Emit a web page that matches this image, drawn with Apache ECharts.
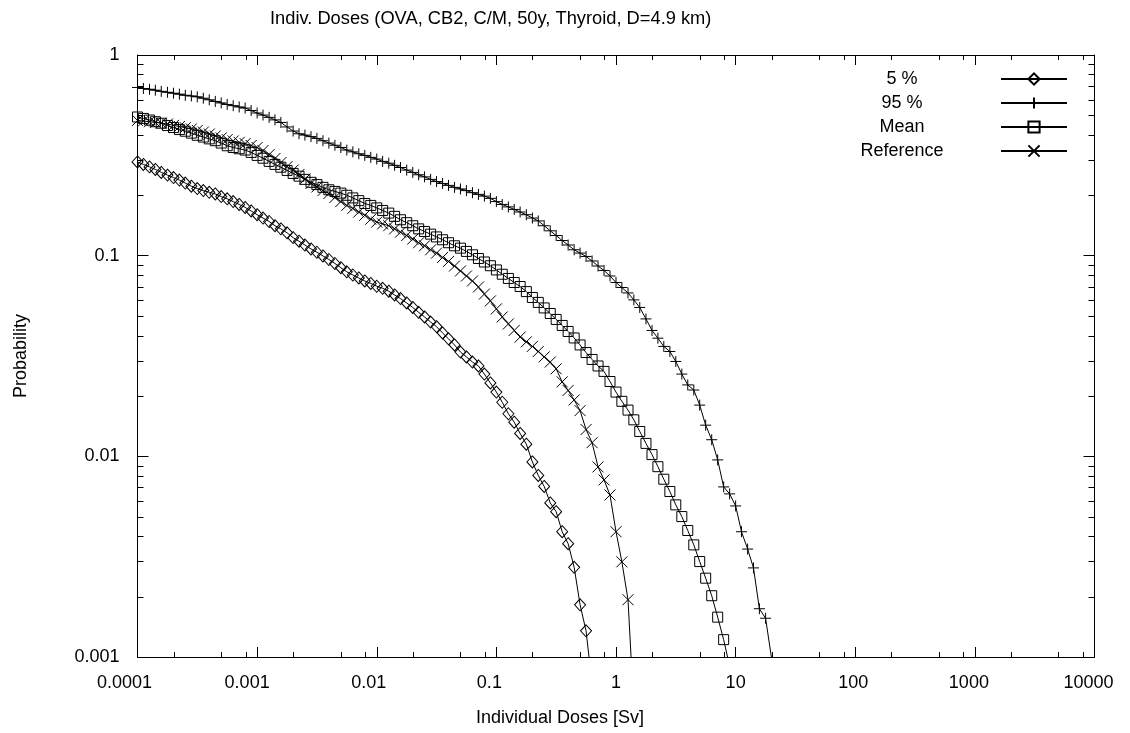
<!DOCTYPE html>
<html>
<head>
<meta charset="utf-8">
<script src="https://cdn.jsdelivr.net/npm/echarts@6/dist/echarts.min.js"></script>
<style>
html,body{margin:0;padding:0;background:#fff;}
#chart{width:1130px;height:733px;}
</style>
</head>
<body>
<div id="chart"></div>
<script>
// Dose bins [Sv] (log-spaced, 20 per decade)
const doses = [
  1.00e-4,1.12e-4,1.26e-4,1.41e-4,1.58e-4,1.78e-4,2.00e-4,2.24e-4,2.51e-4,2.82e-4,3.16e-4,3.55e-4,3.98e-4,4.47e-4,5.01e-4,5.62e-4,6.31e-4,7.08e-4,7.94e-4,8.91e-4,
  1.00e-3,1.12e-3,1.26e-3,1.41e-3,1.58e-3,1.78e-3,2.00e-3,2.24e-3,2.51e-3,2.82e-3,3.16e-3,3.55e-3,3.98e-3,4.47e-3,5.01e-3,5.62e-3,6.31e-3,7.08e-3,7.94e-3,8.91e-3,
  1.00e-2,1.12e-2,1.26e-2,1.41e-2,1.58e-2,1.78e-2,2.00e-2,2.24e-2,2.51e-2,2.82e-2,3.16e-2,3.55e-2,3.98e-2,4.47e-2,5.01e-2,5.62e-2,6.31e-2,7.08e-2,7.94e-2,8.91e-2,
  1.00e-1,1.12e-1,1.26e-1,1.41e-1,1.58e-1,1.78e-1,2.00e-1,2.24e-1,2.51e-1,2.82e-1,3.16e-1,3.55e-1,3.98e-1,4.47e-1,5.01e-1,5.62e-1,6.31e-1,7.08e-1,7.94e-1,8.91e-1,
  1.00,1.12,1.26,1.41,1.58,1.78,2.00,2.24,2.51,2.82,3.16,3.55,3.98,4.47,5.01,5.62,6.31,7.08,7.94,8.91,
  10.0,11.2,12.6,14.1,15.8,17.8,20.0
];

const p05 = [
  0.293,0.285,0.277,0.269,0.260,0.252,0.245,0.238,0.230,0.222,
  0.216,0.211,0.207,0.203,0.197,0.192,0.186,0.180,0.174,0.167,
  0.160,0.154,0.148,0.141,0.136,0.130,0.123,0.118,0.113,0.108,
  0.104,0.0997,0.0957,0.0914,0.0871,0.0831,0.0801,0.0774,0.0748,0.0727,
  0.0704,0.0688,0.0665,0.0637,0.0611,0.0581,0.0552,0.0522,0.0495,0.0467,
  0.0443,0.0412,0.0385,0.0359,0.0331,0.0313,0.0295,0.0282,0.0257,0.0232,
  0.0209,0.0186,0.0163,0.0148,0.0130,0.0115,0.00938,0.00803,0.00708,0.00586,
  0.00530,0.00421,0.00367,0.00280,0.00182,0.00135,0.00073
];

const p95 = [
  0.689,0.681,0.675,0.668,0.659,0.652,0.645,0.638,0.630,0.625,
  0.619,0.609,0.598,0.587,0.577,0.567,0.559,0.551,0.544,0.529,
  0.514,0.502,0.489,0.475,0.461,0.438,0.418,0.405,0.399,0.392,
  0.384,0.374,0.364,0.355,0.346,0.336,0.329,0.322,0.316,0.309,
  0.303,0.295,0.289,0.282,0.275,0.267,0.260,0.253,0.247,0.240,
  0.234,0.229,0.224,0.219,0.215,0.211,0.206,0.202,0.198,0.193,
  0.186,0.180,0.175,0.170,0.165,0.160,0.154,0.149,0.141,0.133,
  0.126,0.119,0.113,0.107,0.103,0.0991,0.0941,0.0888,0.0844,0.0792,
  0.0735,0.0694,0.0652,0.0602,0.0552,0.0484,0.0424,0.0388,0.0353,0.0333,
  0.0297,0.0257,0.0227,0.0214,0.0180,0.0143,0.0121,0.00960,0.00704,0.00650,
  0.00566,0.00421,0.00345,0.00278,0.00174,0.00156,0.00098
];

const pMean = [
  0.491,0.483,0.474,0.465,0.457,0.445,0.435,0.425,0.417,0.408,
  0.398,0.390,0.382,0.374,0.364,0.353,0.346,0.341,0.336,0.327,
  0.316,0.306,0.295,0.285,0.276,0.266,0.257,0.249,0.240,0.232,
  0.226,0.219,0.213,0.209,0.205,0.200,0.194,0.188,0.182,0.178,
  0.173,0.168,0.163,0.157,0.151,0.146,0.141,0.136,0.132,0.128,
  0.124,0.120,0.116,0.112,0.109,0.105,0.101,0.0968,0.0930,0.0891,
  0.0849,0.0808,0.0770,0.0735,0.0702,0.0662,0.0619,0.0585,0.0549,0.0515,
  0.0481,0.0449,0.0419,0.0389,0.0359,0.0329,0.0304,0.0282,0.0265,0.0236,
  0.0209,0.0188,0.0170,0.0152,0.0133,0.0116,0.0102,0.00888,0.00769,0.00668,
  0.00573,0.00501,0.00427,0.00362,0.00299,0.00247,0.00202,0.00158,0.00122,0.00090
];

const pRef = [
  0.472,0.469,0.465,0.461,0.458,0.453,0.446,0.440,0.434,0.428,
  0.421,0.413,0.404,0.395,0.386,0.379,0.373,0.367,0.362,0.354,
  0.346,0.334,0.319,0.305,0.291,0.278,0.267,0.254,0.241,0.229,
  0.220,0.211,0.204,0.195,0.186,0.178,0.172,0.165,0.159,0.152,
  0.147,0.144,0.141,0.136,0.131,0.126,0.121,0.116,0.112,0.107,
  0.103,0.0980,0.0936,0.0888,0.0839,0.0792,0.0748,0.0698,0.0644,0.0595,
  0.0543,0.0495,0.0457,0.0424,0.0393,0.0372,0.0353,0.0333,0.0313,0.0295,
  0.0273,0.0235,0.0213,0.0191,0.0169,0.0136,0.0117,0.00886,0.00763,0.00642,
  0.00421,0.00298,0.00193,0.00055
];

const seriesNames = ['5 %', '95 %', 'Mean', 'Reference'];
const xTickLabels = ['0.0001','0.001','0.01','0.1','1','10','100','1000','10000'];
const yTickLabels = ['0.001','0.01','0.1','1'];
const xMinorTicks = [2e-4,5e-4,8e-4,2e-3,5e-3,8e-3,2e-2,5e-2,8e-2,0.2,0.5,0.8,2,5,8,20,50,80,200,500,800,2000,5000,8000];
const yMinorTicks = [0.002,0.003,0.004,0.005,0.006,0.007,0.008,0.009,
                     0.02,0.03,0.04,0.05,0.06,0.07,0.08,0.09,
                     0.2,0.3,0.4,0.5,0.6,0.7,0.8,0.9];
const titleText = 'Indiv. Doses (OVA, CB2, C/M, 50y, Thyroid, D=4.9 km)';
const xName = 'Individual Doses [Sv]';
const yName = 'Probability';

const X_MIN = 1e-4, X_MAX = 1e4, Y_MIN = 1e-3, Y_MAX = 1;
const FONT = '"Liberation Sans", Arial, Helvetica, sans-serif';
const FS = 18;

function pairs(arr) { return arr.map((v, i) => [doses[i], v]); }

const symbols = {
  '5 %': { symbol: 'diamond', size: [11, 12] },
  '95 %': { symbol: 'path://M5,0L5,10M0,5L10,5', size: 11 },
  'Mean': { symbol: 'rect', size: 10 },
  'Reference': { symbol: 'path://M0,0L10,10M10,0L0,10', size: 11 }
};
const seriesData = { '5 %': p05, '95 %': p95, 'Mean': pMean, 'Reference': pRef };

const crisp = v => Math.round(v) + 0.5;

const dataSeries = seriesNames.map(name => ({
  name: name,
  type: 'line',
  data: pairs(seriesData[name]),
  symbol: symbols[name].symbol,
  symbolSize: symbols[name].size,
  showSymbol: true,
  showAllSymbol: true,
  clip: true,
  lineStyle: { color: '#000', width: 1 },
  itemStyle: { color: 'rgba(255,255,255,0)', borderColor: '#000', borderWidth: 1 },
  emphasis: { disabled: true },
  z: 3
}));

const minorX = {
  type: 'custom',
  silent: true,
  clip: false,
  z: 4,
  data: xMinorTicks.map(v => [v, Y_MIN]),
  renderItem: function (params, api) {
    const v = api.value(0);
    const b = api.coord([v, Y_MIN]);
    const t = api.coord([v, Y_MAX]);
    const x = crisp(b[0]);
    return { type: 'group', children: [
      { type: 'line', shape: { x1: x, y1: b[1], x2: x, y2: b[1] - 5 }, style: { stroke: '#000', lineWidth: 1 } },
      { type: 'line', shape: { x1: x, y1: t[1], x2: x, y2: t[1] + 5 }, style: { stroke: '#000', lineWidth: 1 } }
    ]};
  }
};
const minorY = {
  type: 'custom',
  silent: true,
  clip: false,
  z: 4,
  data: yMinorTicks.map(v => [X_MIN, v]),
  renderItem: function (params, api) {
    const v = api.value(1);
    const l = api.coord([X_MIN, v]);
    const r = api.coord([X_MAX, v]);
    const y = crisp(l[1]);
    return { type: 'group', children: [
      { type: 'line', shape: { x1: l[0], y1: y, x2: l[0] + 6, y2: y }, style: { stroke: '#000', lineWidth: 1 } },
      { type: 'line', shape: { x1: r[0], y1: y, x2: r[0] - 6, y2: y }, style: { stroke: '#000', lineWidth: 1 } }
    ]};
  }
};

// horizontal nudges of the bottom tick labels (px, negative = left), as in the original rendering
const xLabelShift = [-13, -10, -8, -7, 0, 0, -2, -6, -6];
const xLabelRich = {};
xLabelShift.forEach((s, i) => {
  xLabelRich['l' + i] = {
    fontFamily: FONT, fontSize: FS, color: '#000',
    padding: s < 0 ? [0, -2 * s, 0, 0] : [0, 0, 0, 2 * s]
  };
});

const axisCommon = {
  type: 'log',
  logBase: 10,
  interval: 1,
  axisLine: { show: true, lineStyle: { color: '#000', width: 1 } },
  axisTick: { show: true, inside: true, length: 10, lineStyle: { color: '#000', width: 1 } },
  splitLine: { show: false },
  minorTick: { show: false },
  minorSplitLine: { show: false }
};

const chart = echarts.init(document.getElementById('chart'), null, { renderer: 'canvas' });
chart.setOption({
  animation: false,
  backgroundColor: '#fff',
  textStyle: { fontFamily: FONT, color: '#000' },
  title: {
    text: titleText,
    left: 270, top: 10, padding: 0,
    textStyle: { fontFamily: FONT, fontSize: 18.3, fontWeight: 'normal', color: '#000' }
  },
  legend: {
    data: seriesNames,
    orient: 'vertical',
    left: 803, top: 65,
    align: 'right',
    itemWidth: 66, itemHeight: 14, itemGap: 6,
    selectedMode: false,
    formatter: name => '{t|' + name + '}',
    textStyle: {
      fontFamily: FONT, fontSize: FS, color: '#000',
      rich: { t: { width: 188, height: 18, lineHeight: 18, align: 'center', fontFamily: FONT, fontSize: FS, color: '#000' } }
    }
  },
  grid: { left: 137.5, right: 35.5, top: 55, bottom: 76, containLabel: false },
  xAxis: [
    Object.assign({}, axisCommon, {
      position: 'bottom', min: X_MIN, max: X_MAX,
      name: xName, nameLocation: 'middle', nameGap: 52,
      nameTextStyle: { fontFamily: FONT, fontSize: FS, color: '#000', padding: [0, 112, 0, 0] },
      axisLabel: {
        show: true, margin: 17, fontFamily: FONT, fontSize: FS, color: '#000',
        formatter: v => {
          const i = Math.round(Math.log10(v)) + 4;
          return '{l' + i + '|' + xTickLabels[i] + '}';
        },
        rich: xLabelRich
      }
    }),
    Object.assign({}, axisCommon, {
      position: 'top', min: X_MIN, max: X_MAX,
      axisLabel: { show: false }
    })
  ],
  yAxis: [
    Object.assign({}, axisCommon, {
      position: 'left', min: Y_MIN, max: Y_MAX,
      axisTick: { show: true, inside: true, length: 11, lineStyle: { color: '#000', width: 1 } },
      name: yName, nameLocation: 'middle', nameGap: 107, nameRotate: 90,
      nameTextStyle: { fontFamily: FONT, fontSize: FS, color: '#000' },
      axisLabel: {
        show: true, margin: 18, fontFamily: FONT, fontSize: FS, color: '#000',
        formatter: v => yTickLabels[Math.round(Math.log10(v)) + 3]
      }
    }),
    Object.assign({}, axisCommon, {
      position: 'right', min: Y_MIN, max: Y_MAX,
      axisTick: { show: true, inside: true, length: 11, lineStyle: { color: '#000', width: 1 } },
      axisLabel: { show: false }
    })
  ],
  series: dataSeries.concat([minorX, minorY])
});
</script>
</body>
</html>
